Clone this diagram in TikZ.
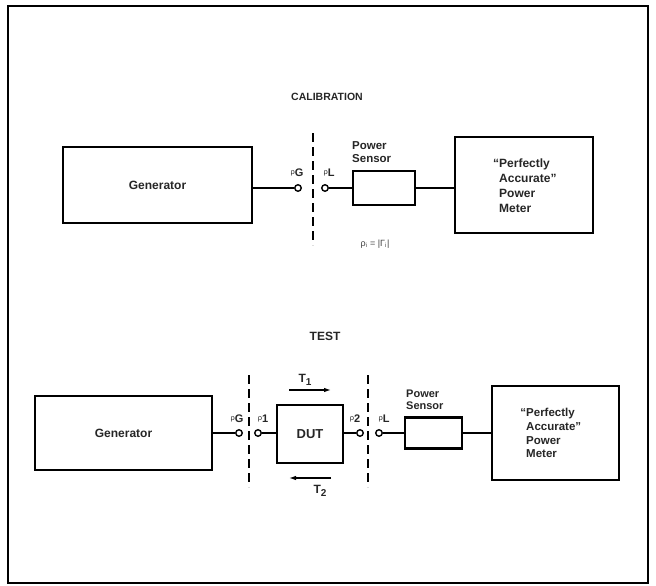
\documentclass[tikz,border=0pt]{standalone}
\usepackage{fontspec}
\setmainfont{Liberation Sans}
\usetikzlibrary{arrows.meta}
\begin{document}
\begin{tikzpicture}[x=1pt,y=-1pt,
  box/.style={draw,line width=2.8pt,rectangle,inner sep=0pt},
  wire/.style={line width=1.6pt},
  port/.style={circle,draw,line width=1.4pt,fill=white,inner sep=0pt,minimum size=6.5pt},
  cut/.style={line width=1.2pt,dash pattern=on 9pt off 5pt},
  lbl/.style={font=\fontsize{12}{14}\selectfont\bfseries,text=black!85},
  ttl/.style={font=\fontsize{10.5}{13}\selectfont\bfseries,text=black!85},
  meter/.style={font=\fontsize{12}{15}\selectfont\bfseries,text=black!85,align=left,anchor=west,inner sep=0pt},
  sens/.style={font=\fontsize{11.5}{13}\selectfont\bfseries,text=black!85,align=left,anchor=west,inner sep=0pt},
  rho/.style={font=\fontsize{11}{12}\selectfont\bfseries,text=black!85,inner sep=0pt},
  tarrow/.style={line width=1.2pt,-{Latex[length=7pt,width=4.5pt]}}]
\useasboundingbox (0,0) rectangle (656,586);
\draw[line width=1.8pt] (8,6) rectangle (648,583);

% ---------- CALIBRATION ----------
\node[ttl] (t1) at (327,97) {CALIBRATION};
\node[box,minimum width=189pt,minimum height=76pt,lbl] (gen1) at (157.5,185) {Generator};
\node[port] (pg1) at (298,188) {};
\node[port] (pl1) at (325,188) {};
\coordinate (c1a) at (313,133);
\coordinate (c1b) at (313,245);
\draw[cut] (c1a) -- (c1b);
\node[box,minimum width=62pt,minimum height=34pt] (ps1) at (384,188) {};
\node[box,minimum width=138pt,minimum height=96pt] (m1) at (524,185) {};
\node[meter] (m1t) at (499,186) {\llap{``}Perfectly\\Accurate''\\Power\\Meter};
\node[sens] (ps1t) at (352,152) {Power\\Sensor};
\node[rho] (rg1) at (297,173) {\raisebox{2pt}{\fontsize{7.5}{8}\selectfont\mdseries ρ}G};
\node[rho] (rl1) at (329,173) {\raisebox{2pt}{\fontsize{7.5}{8}\selectfont\mdseries ρ}L};
\node[font=\fontsize{9}{10}\selectfont,text=black!75] (ri) at (375,244) {ρ\textsubscript{i} = |Γ\textsubscript{i}|};
\draw[wire] (gen1.east |- pg1) -- (pg1.west);
\draw[wire] (pl1.east) -- (ps1.west);
\draw[wire] (ps1.east) -- (m1.west |- ps1.east);

% ---------- TEST ----------
\node[ttl,font=\fontsize{12}{13}\selectfont\bfseries] (t2) at (325,336) {TEST};
\node[box,minimum width=177pt,minimum height=74pt,lbl] (gen2) at (123.5,433) {Generator};
\node[port] (pg2) at (239,433) {};
\coordinate (c2a) at (249,375);
\coordinate (c2b) at (249,487);
\draw[cut] (c2a) -- (c2b);
\node[port] (p1) at (258,433) {};
\node[box,minimum width=66pt,minimum height=58pt,lbl,font=\fontsize{13}{14}\selectfont\bfseries] (dut) at (310,434) {DUT};
\node[port] (p2) at (360,433) {};
\coordinate (c3a) at (368,375);
\coordinate (c3b) at (368,487);
\draw[cut] (c3a) -- (c3b);
\node[port] (pl2) at (379,433) {};
\node[box,minimum width=57pt,minimum height=31pt] (ps2) at (433.5,433) {};
\node[box,minimum width=127pt,minimum height=94pt] (m2) at (555.5,433) {};
\node[meter,font=\fontsize{11.5}{13.8}\selectfont\bfseries] (m2t) at (526,433) {\llap{``}Perfectly\\Accurate''\\Power\\Meter};
\node[sens,font=\fontsize{11}{12.5}\selectfont\bfseries] (ps2t) at (406,400) {Power\\Sensor};
\node[rho] (rg2) at (237,419) {\raisebox{2pt}{\fontsize{7.5}{8}\selectfont\mdseries ρ}G};
\node[rho] (r1) at (263,419) {\raisebox{2pt}{\fontsize{7.5}{8}\selectfont\mdseries ρ}1};
\node[rho] (r2) at (355,419) {\raisebox{2pt}{\fontsize{7.5}{8}\selectfont\mdseries ρ}2};
\node[rho] (rl2) at (384,419) {\raisebox{2pt}{\fontsize{7.5}{8}\selectfont\mdseries ρ}L};
\draw[wire] (gen2.east |- pg2) -- (pg2.west);
\draw[wire] (p1.east) -- (dut.west |- p1.east);
\draw[wire] (dut.east |- p2.west) -- (p2.west);
\draw[wire] (pl2.east) -- (ps2.west);
\draw[wire] (ps2.east) -- (m2.west |- ps2.east);
\coordinate (a1s) at (289,390);
\coordinate (a1e) at (331,390);
\draw[tarrow] (a1s) -- (a1e);
\node[lbl] (tl1) at (305,380) {T\raisebox{-3pt}{\fontsize{10}{11}\selectfont 1}};
\coordinate (a2s) at (331,478);
\coordinate (a2e) at (289,478);
\draw[tarrow] (a2s) -- (a2e);
\node[lbl] (tl2) at (320,491) {T\raisebox{-3pt}{\fontsize{10}{11}\selectfont 2}};
\end{tikzpicture}
\end{document}
